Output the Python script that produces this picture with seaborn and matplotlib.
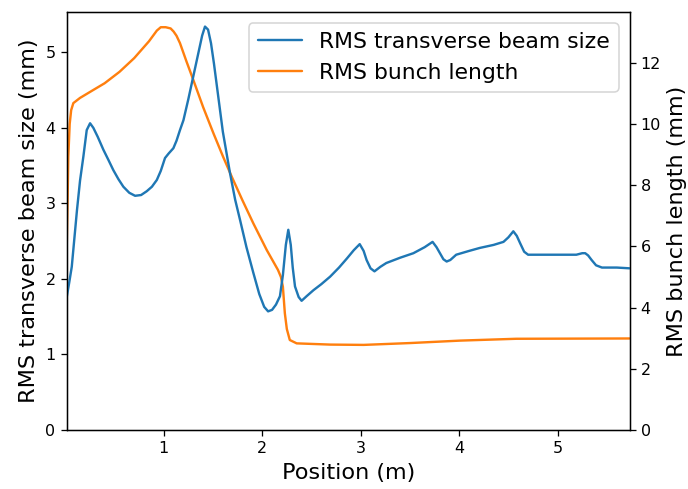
import matplotlib
matplotlib.use("Agg")
import matplotlib.pyplot as plt
import seaborn as sns
import pandas as pd

# Blue: RMS transverse beam size (left axis, mm)
beam_x = [0.015, 0.04, 0.066, 0.09, 0.119, 0.15, 0.184, 0.218, 0.252, 0.285, 0.33, 0.387, 0.44,
          0.488, 0.54, 0.59, 0.65, 0.709, 0.77, 0.827, 0.88, 0.93, 0.97, 1.013, 1.05, 1.098,
          1.13, 1.165, 1.20, 1.25, 1.30, 1.35, 1.39, 1.419, 1.45, 1.48, 1.51, 1.55, 1.60,
          1.673, 1.725, 1.775, 1.84, 1.91, 1.97, 2.02, 2.06, 2.10, 2.14, 2.18, 2.21, 2.24,
          2.265, 2.29, 2.31, 2.333, 2.37, 2.40, 2.45, 2.52, 2.60, 2.69, 2.78, 2.86, 2.93,
          2.99, 3.03, 3.06, 3.10, 3.14, 3.20, 3.26, 3.40, 3.535, 3.65, 3.73, 3.77, 3.805,
          3.84, 3.873, 3.91, 3.97, 4.10, 4.21, 4.35, 4.45, 4.50, 4.55, 4.585, 4.62, 4.66,
          4.70, 4.80, 5.00, 5.19, 5.25, 5.28, 5.31, 5.345, 5.39, 5.45, 5.60, 5.73]
beam_y = [1.76, 1.95, 2.16, 2.50, 2.91, 3.30, 3.62, 3.97, 4.06, 4.00, 3.88, 3.71, 3.57,
          3.44, 3.32, 3.22, 3.14, 3.10, 3.11, 3.16, 3.22, 3.31, 3.43, 3.60, 3.66, 3.73,
          3.83, 3.97, 4.10, 4.38, 4.68, 4.98, 5.22, 5.34, 5.30, 5.12, 4.85, 4.45, 3.95,
          3.40, 3.05, 2.78, 2.42, 2.08, 1.80, 1.63, 1.57, 1.59, 1.66, 1.77, 2.05, 2.45,
          2.65, 2.45, 2.15, 1.90, 1.76, 1.71, 1.77, 1.85, 1.93, 2.03, 2.15, 2.27, 2.38,
          2.46, 2.37, 2.25, 2.14, 2.10, 2.16, 2.21, 2.28, 2.34, 2.42, 2.49, 2.42, 2.34,
          2.26, 2.23, 2.25, 2.32, 2.37, 2.41, 2.45, 2.49, 2.55, 2.63, 2.57, 2.47, 2.36,
          2.32, 2.32, 2.32, 2.32, 2.34, 2.34, 2.31, 2.25, 2.18, 2.15, 2.15, 2.14]

# Orange: RMS bunch length (right axis, mm)
bunch_x = [0.015, 0.022, 0.031, 0.045, 0.06, 0.082, 0.15, 0.285, 0.40, 0.55, 0.70, 0.85, 0.93,
           0.97, 1.02, 1.07, 1.10, 1.13, 1.165, 1.23, 1.30, 1.40, 1.504, 1.60, 1.69, 1.80,
           1.91, 2.046, 2.16, 2.19, 2.21, 2.23, 2.25, 2.28, 2.35, 2.69, 3.03, 3.50, 4.01,
           4.58, 5.73]
bunch_y = [6.0, 7.2, 8.93, 10.0, 10.45, 10.68, 10.85, 11.11, 11.33, 11.70, 12.15, 12.70, 13.05,
           13.16, 13.16, 13.12, 13.02, 12.88, 12.64, 12.05, 11.44, 10.55, 9.70, 8.95, 8.28, 7.50,
           6.75, 5.88, 5.23, 5.00, 4.68, 3.81, 3.30, 2.94, 2.83, 2.79, 2.78, 2.84, 2.92,
           2.98, 2.99]

beam_label = "RMS transverse beam size"
bunch_label = "RMS bunch length"

sns.set_style("ticks", {"axes.edgecolor": "black", "xtick.color": "black", "ytick.color": "black",
                        "text.color": "black", "axes.labelcolor": "black"})
plt.rcParams["font.family"] = ["DejaVu Sans"]

beam_df = pd.DataFrame({"x": beam_x, "y": beam_y})
bunch_df = pd.DataFrame({"x": bunch_x, "y": bunch_y})

fig = plt.figure(figsize=(688 / 115, 489 / 115), dpi=115)
ax = fig.add_axes([0.097, 0.1207, 0.818, 0.8543])
ax2 = ax.twinx()

sns.lineplot(data=beam_df, x="x", y="y", ax=ax, color="#1f77b4", linewidth=1.5,
             sort=False, estimator=None, legend=False)
sns.lineplot(data=bunch_df, x="x", y="y", ax=ax2, color="#ff7f0e", linewidth=1.5,
             sort=False, estimator=None, legend=False)

ax.set_xlim(0.015, 5.73)
ax.set_ylim(0, 5.53)
ax2.set_ylim(0, 13.65)
ax.set_xticks([1, 2, 3, 4, 5])
ax.set_yticks([0, 1, 2, 3, 4, 5])
ax2.set_yticks([0, 2, 4, 6, 8, 10, 12])

ax.set_xlabel("Position (m)", fontsize=14)
ax.set_ylabel("RMS transverse beam size (mm)", fontsize=14)
ax2.set_ylabel("RMS bunch length (mm)", fontsize=14)
ax.tick_params(labelsize=10)
ax2.tick_params(labelsize=10)

handles = [ax.get_lines()[0], ax2.get_lines()[0]]
ax.legend(handles, [beam_label, bunch_label], loc="upper right", fontsize=13.7)
ax.set_zorder(ax2.get_zorder() + 1)
ax.patch.set_visible(False)

fig.savefig("out.png", dpi=115)
